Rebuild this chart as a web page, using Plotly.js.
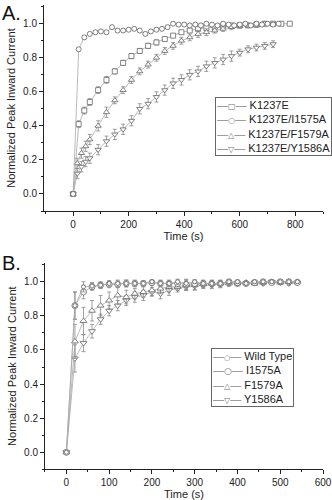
<!DOCTYPE html>
<html>
<head>
<meta charset="utf-8">
<script src="https://cdn.plot.ly/plotly-3.0.1.min.js"></script>
<style>html,body{margin:0;padding:0;background:#fff;}#chart{width:332px;height:500px;}</style>
</head>
<body>
<div id="chart"></div>
<script>
// ---------- Panel A data ----------
const aSqX = [0,20,40,60,90,120,150,180,210,240,270,300,330,360,390,420,450,480,510,540,570,600,630,660,690,720,750,780];
const aSqY = [0,0.41,0.49,0.54,0.61,0.67,0.72,0.77,0.81,0.84,0.87,0.89,0.91,0.93,0.95,0.96,0.97,0.975,0.98,0.985,0.99,0.99,0.99,0.995,1.0,1.0,1.0,1.0];
const aSqE = [0,0.02,0.02,0.02,0.02,0.02,0.015,0.015,0.015,0.015,0.015,0.015,0.01,0.01,0.01,0.01,0.01,0.01,0.01,0.01,0.01,0.01,0.01,0.01,0.01,0.01,0.01,0.01];

const aCiX = [0,20,40,60,80,100,120,140,160,180,200,220,240,260,280,300,320,340,360,380,400,420,440,460,480,500,520,540,560,580,600,620,640,660,680,700,720,740];
const aCiY = [0,0.85,0.92,0.94,0.95,0.955,0.95,0.98,0.96,0.96,0.965,0.97,0.96,0.94,0.955,0.965,0.97,0.98,1.0,0.995,0.995,0.99,0.995,0.99,1.0,0.995,0.99,1.0,0.995,0.99,0.995,1.0,0.99,1.0,0.995,1.0,0.995,1.0];
const aCiE = [0,0.01,0.01,0.01,0.01,0.01,0.01,0.01,0.01,0.01,0.01,0.01,0.01,0.01,0.01,0.01,0.01,0.01,0.01,0.01,0.01,0.01,0.01,0.01,0.01,0.01,0.01,0.01,0.01,0.01,0.01,0.01,0.01,0.01,0.01,0.01,0.01,0.01];

const aUpX = [0,15,30,45,60,90,120,150,180,210,240,270,300,330,360,390,420,450,480,510,540,570,600,630,660,690];
const aUpY = [0,0.18,0.24,0.28,0.32,0.40,0.48,0.55,0.61,0.67,0.72,0.76,0.80,0.84,0.87,0.90,0.92,0.94,0.95,0.96,0.97,0.98,0.985,0.99,0.99,1.0];
const aUpE = [0,0.03,0.03,0.03,0.03,0.03,0.03,0.02,0.02,0.02,0.02,0.02,0.02,0.02,0.02,0.02,0.02,0.02,0.02,0.015,0.015,0.015,0.01,0.01,0.01,0.01];

const aDnX = [0,15,30,45,60,90,120,150,180,210,240,270,300,330,360,390,420,450,480,510,540,570,600,630,660,690,720];
const aDnY = [0,0.12,0.16,0.19,0.21,0.26,0.31,0.35,0.38,0.43,0.50,0.53,0.57,0.61,0.65,0.67,0.70,0.72,0.75,0.77,0.79,0.81,0.83,0.85,0.86,0.87,0.88];
const aDnE = [0,0.03,0.03,0.03,0.03,0.03,0.03,0.03,0.03,0.03,0.03,0.03,0.03,0.03,0.03,0.03,0.03,0.03,0.03,0.03,0.03,0.03,0.02,0.02,0.02,0.02,0.02];

const aNames = ["K1237E","K1237E/I1575A","K1237E/F1579A","K1237E/Y1586A"];

// ---------- Panel B data ----------
const bX = [0,20,40,60,80,100,120,140,160,180,200,220,240,260,280,300,320,340,360,380,400,420,440,460,480,500,520,540];
const bWtY = [0,0.86,0.97,0.975,0.98,0.99,0.99,0.99,0.99,0.99,1.0,0.99,0.99,1.0,0.99,1.0,0.99,0.99,0.99,1.0,1.0,0.99,1.0,1.0,1.0,1.0,1.0,1.0];
const bWtE = [0,0.08,0.03,0.02,0.015,0.015,0.02,0.02,0.015,0.015,0.01,0.015,0.01,0.015,0.02,0.01,0.015,0.01,0.01,0.01,0.01,0.01,0.01,0.01,0.01,0.01,0.01,0.01];
const bIY = [0,0.86,0.94,0.97,0.98,0.985,0.985,0.99,0.99,0.99,0.995,0.99,0.99,0.99,0.985,0.99,0.99,0.99,0.99,1.0,0.995,0.99,0.995,1.0,0.995,1.0,1.0,0.995];
const bIE = [0,0.08,0.04,0.02,0.02,0.02,0.02,0.02,0.02,0.015,0.015,0.02,0.02,0.02,0.03,0.02,0.02,0.015,0.015,0.01,0.01,0.01,0.01,0.01,0.01,0.01,0.01,0.01];
const bFY = [0,0.65,0.77,0.83,0.86,0.89,0.92,0.91,0.93,0.94,0.95,0.96,0.97,0.97,0.98,0.98,0.985,0.99,0.99,0.99,0.99,0.995,0.99,0.995,1.0,0.995,1.0,1.0];
const bFE = [0,0.10,0.08,0.06,0.06,0.05,0.05,0.04,0.03,0.03,0.03,0.03,0.03,0.02,0.03,0.03,0.02,0.02,0.02,0.015,0.015,0.01,0.01,0.01,0.01,0.01,0.01,0.01];
const bYY = [0,0.55,0.64,0.71,0.78,0.83,0.86,0.89,0.91,0.92,0.94,0.93,0.95,0.96,0.97,0.975,0.98,0.98,0.985,0.99,0.99,0.99,0.995,0.99,1.0,0.995,0.99,0.995];
const bYE = [0,0.08,0.05,0.04,0.03,0.03,0.03,0.03,0.03,0.03,0.025,0.03,0.03,0.02,0.02,0.02,0.02,0.02,0.02,0.015,0.015,0.01,0.01,0.01,0.01,0.01,0.01,0.01];
const bNames = ["Wild Type","I1575A","F1579A","Y1586A"];

const legendSyms = ["□","○","△","▽"];
const legendSymsB = ["○","○","△","▽"];
const legendSymSizeB = [7, 9, 8, 8];

// ---------- styling ----------
const FONT = "Arial, 'Liberation Sans', Helvetica, sans-serif";
const MK = "#666";
const LN = "#aaa";

function tr(x, y, e, name, sym, size, xa, ya) {
  return {
    type: "scatter", mode: "lines+markers", x: x, y: y, name: name,
    xaxis: xa, yaxis: ya, showlegend: false,
    line: {color: LN, width: 0.8},
    marker: {symbol: sym, size: size, color: "#fff", line: {color: MK, width: 0.8}},
    error_y: {type: "data", array: e, visible: true, color: "#888", thickness: 0.8, width: 2}
  };
}

const data = [
  tr(aSqX, aSqY, aSqE, aNames[0], "square", 5, "x", "y"),
  tr(aUpX, aUpY, aUpE, aNames[2], "triangle-up", 5.5, "x", "y"),
  tr(aDnX, aDnY, aDnE, aNames[3], "triangle-down", 5.5, "x", "y"),
  tr(aCiX, aCiY, aCiE, aNames[1], "circle", 5, "x", "y"),
  tr(bX, bYY, bYE, bNames[3], "triangle-down", 6, "x2", "y2"),
  tr(bX, bFY, bFE, bNames[2], "triangle-up", 6, "x2", "y2"),
  tr(bX, bIY, bIE, bNames[1], "circle", 6, "x2", "y2"),
  tr(bX, bWtY, bWtE, bNames[0], "circle", 4, "x2", "y2")
];

function axis(extra) {
  return Object.assign({
    showline: true, linecolor: "#222", linewidth: 1, mirror: false,
    ticks: "outside", ticklen: 4, tickwidth: 1, tickcolor: "#222",
    showgrid: false, zeroline: false, fixedrange: true,
    tickfont: {family: FONT, size: 10, color: "#222"}
  }, extra);
}

const SYMFONT = "font-family:'DejaVu Sans';color:#777;";
const annText = (names, syms, sizes) => names.map((n, i) =>
  "<span style=\"color:#888\">—</span><span style=\"" + SYMFONT + "font-size:" + (sizes ? sizes[i] : 8) + "px\">" + syms[i] +
  "</span><span style=\"color:#888\">—</span> " + n).join("<br>");

const layout = {
  width: 332, height: 500,
  margin: {l: 0, r: 0, t: 0, b: 0},
  paper_bgcolor: "#fff", plot_bgcolor: "#fff",
  font: {family: FONT, color: "#222"},
  showlegend: false,
  xaxis: axis({domain: [0.1325, 0.973], anchor: "y", range: [-105, 900], dtick: 200, minor: {ticks: "outside", ticklen: 2, dtick: 100, tickcolor: "#222"},
    title: {text: "Time (s)", font: {family: FONT, size: 11}, standoff: 3}}),
  yaxis: axis({domain: [0.578, 0.99], anchor: "x", range: [-0.1, 1.11], dtick: 0.2, tickformat: ".1f", minor: {ticks: "outside", ticklen: 2, dtick: 0.1, tickcolor: "#222"},
    title: {text: "Normalized Peak Inward Current", font: {family: FONT, size: 11}, standoff: 5}}),
  xaxis2: axis({domain: [0.1355, 0.973], anchor: "y2", range: [-50, 600], dtick: 100, minor: {ticks: "outside", ticklen: 2, dtick: 50, tickcolor: "#222"},
    title: {text: "Time (s)", font: {family: FONT, size: 11}, standoff: 3}}),
  yaxis2: axis({domain: [0.0614, 0.474], anchor: "x2", range: [-0.1, 1.11], dtick: 0.2, tickformat: ".1f", minor: {ticks: "outside", ticklen: 2, dtick: 0.1, tickcolor: "#222"},
    title: {text: "Normalized Peak Inward Current", font: {family: FONT, size: 11}, standoff: 5}}),
  annotations: [
    {xref: "paper", yref: "paper", x: 0, y: 1, xanchor: "left", yanchor: "top", showarrow: false,
     text: "A.", font: {family: FONT, size: 20, color: "#111"}},
    {xref: "paper", yref: "paper", x: 0, y: 0.5, xanchor: "left", yanchor: "top", showarrow: false,
     text: "B.", font: {family: FONT, size: 20, color: "#111"}},
    {xref: "paper", yref: "paper", x: 215/332, y: 1 - 97/500, xanchor: "left", yanchor: "top", showarrow: false,
     align: "left", text: annText(aNames, legendSyms), font: {family: FONT, size: 11, color: "#222"},
     bordercolor: "#666", borderwidth: 1, borderpad: 1, bgcolor: "#fff"},
    {xref: "paper", yref: "paper", x: 211/332, y: 1 - 348/500, xanchor: "left", yanchor: "top", showarrow: false,
     align: "left", text: annText(bNames, legendSymsB, legendSymSizeB), font: {family: FONT, size: 11, color: "#222"},
     bordercolor: "#666", borderwidth: 1, borderpad: 1, bgcolor: "#fff"}
  ]
};

Plotly.newPlot("chart", data, layout, {staticPlot: true, displayModeBar: false});
</script>
</body>
</html>
